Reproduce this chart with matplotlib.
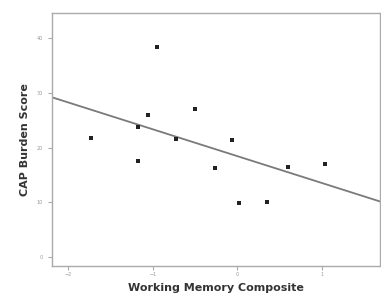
import numpy as np
import matplotlib
matplotlib.use("Agg")
import matplotlib.pyplot as plt

# Data
wm_composite = [-1.73, -0.95, -1.17, -1.06, -1.17, -0.73, -0.50, -0.06, -0.26, 0.02, 0.35, 0.60, 1.03]
cap_burden = [21.7, 38.4, 23.8, 26.0, 17.6, 21.5, 27.0, 21.4, 16.2, 9.9, 10.1, 16.5, 17.0]
x_ticks = [-2, -1, 0, 1]
y_ticks = [0, 10, 20, 30, 40]

fig = plt.figure(figsize=(3.81, 2.98), dpi=100)
ax = fig.add_axes([0.1365, 0.1074, 0.861, 0.849])

ax.scatter(wm_composite, cap_burden, s=9, marker='s', color='#222222', zorder=3, linewidths=0)

xlim = (-2.19, 1.685)
slope, intercept = np.polyfit(wm_composite, cap_burden, 1)
xs = np.array(xlim)
ax.plot(xs, slope * xs + intercept, color='#7a7a7a', lw=1.3, zorder=2)

ax.set_xlim(*xlim)
ax.set_ylim(-1.64, 44.57)
ax.set_xticks(x_ticks)
ax.set_yticks(y_ticks)
ax.tick_params(axis='both', colors='#aaaaaa', labelsize=3.5, length=3, width=0.8,
               labelcolor='#999999')
ax.tick_params(axis='x', pad=1)
for s in ax.spines.values():
    s.set_color('#aaaaaa')
    s.set_linewidth(1.0)

ax.set_xlabel('Working Memory Composite', fontsize=8, fontweight='bold', color='#333333', labelpad=5)
ax.set_ylabel('CAP Burden Score', fontsize=8, fontweight='bold', color='#333333', labelpad=5)

fig.savefig('out.png', dpi=100)
